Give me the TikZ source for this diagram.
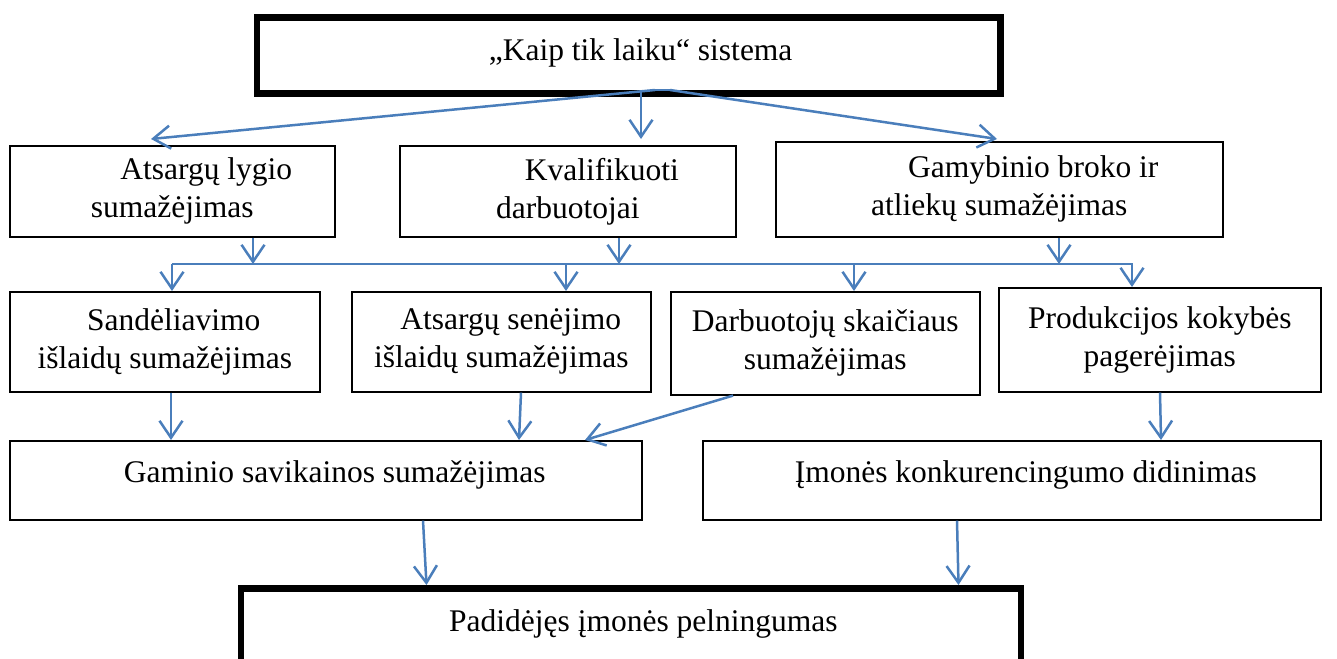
\documentclass[tikz,border=0pt]{standalone}
\usepackage{fontspec}
\setmainfont{Liberation Serif}
\usetikzlibrary{arrows.meta}
\definecolor{arrowblue}{RGB}{74,126,187}
\begin{document}
\begin{tikzpicture}[x=1pt,y=-1pt,
  box/.style={draw=black, line width=1.6pt, inner sep=0pt, anchor=north west,
    align=center, font=\fontsize{31.5}{38}\selectfont},
  heavybox/.style={box, line width=6.8pt},
  conn/.style={draw=arrowblue, line width=2.5pt},
  arr/.style={conn, -{Straight Barb[length=17pt,width=23pt]}}]
\useasboundingbox (0,0) rectangle (1337,658);

% boxes
\node[heavybox, minimum width=743.5pt, minimum height=75.5pt, text height=22pt, text depth=12.5pt]
  (T) at (253.5,14.5) {\hspace*{24pt}„Kaip tik laiku“ sistema};

\node[box, minimum width=325pt, minimum height=91pt] (A) at (9,145)
  {\hspace*{68pt}Atsargų lygio\\sumažėjimas};
\node[box, minimum width=336pt, minimum height=91pt] (B) at (399,145)
  {\hspace*{68pt}Kvalifikuoti\\darbuotojai};
\node[box, minimum width=447pt, minimum height=95pt] (C) at (775,141)
  {\hspace*{68pt}Gamybinio broko ir\\atliekų sumažėjimas};

\node[box, minimum width=310pt, minimum height=100pt] (D) at (9,291)
  {\hspace*{18pt}Sandėliavimo\\išlaidų sumažėjimas};
\node[box, minimum width=299pt, minimum height=100pt] (E) at (351,291)
  {\hspace*{19pt}Atsargų senėjimo\\išlaidų sumažėjimas};
\node[box, minimum width=309pt, minimum height=103pt] (F) at (670,291)
  {Darbuotojų skaičiaus\\sumažėjimas};
\node[box, minimum width=322pt, minimum height=104pt] (G) at (998,287)
  {Produkcijos kokybės\\pagerėjimas};

\node[box, minimum width=632pt, minimum height=79pt, text height=22pt, text depth=17pt] (H) at (9,440)
  {\hspace*{18pt}Gaminio savikainos sumažėjimas};
\node[box, minimum width=618pt, minimum height=79pt, text height=22pt, text depth=17pt] (I) at (702,440)
  {\hspace*{28pt}Įmonės konkurencingumo didinimas};

\node[heavybox, minimum width=780pt, minimum height=100pt, text height=22pt, text depth=36pt]
  (P) at (237.5,585) {\hspace*{25pt}Padidėjęs įmonės pelningumas};

% junction under the top box
\coordinate (j) at (655,90);
\coordinate (jr) at (670,90);
\coordinate (jv) at (641,90);
\draw[conn] (j) -- (jr);
\draw[arr] (j) -- ([xshift=142pt,yshift=6pt]A.north west);
\draw[arr, shorten >=6pt] (jv) -- (jv |- B.north);
\draw[arr] (jr) -- ([xshift=222pt,yshift=2pt]C.north west);

% bus between row 1 and row 2
\coordinate (busL) at (172,264);
\coordinate (busR) at (1133,264);
\draw[conn] (busL) -- (busR);
\coordinate (ba) at (253,264);
\coordinate (bb) at (619,264);
\coordinate (bc) at (1059,264);
\draw[arr] (ba |- A.south) -- (ba);
\draw[arr] (bb |- B.south) -- (bb);
\draw[arr] (bc |- C.south) -- (bc);
\coordinate (be) at (566,264);
\coordinate (bf) at (854,264);
\coordinate (bg) at (1132,264);
\draw[arr] (busL) -- (busL |- D.north);
\draw[arr] (be) -- (be |- E.north);
\draw[arr] (bf) -- (bf |- F.north);
\draw[arr] (bg) -- (bg |- G.north);

% row 2 to row 3
\draw[arr] ([xshift=162pt]D.south west) -- ([xshift=162pt]H.north west);
\draw[arr] ([xshift=170pt]E.south west) -- ([xshift=510pt]H.north west);
\draw[arr] ([xshift=63pt]F.south west) -- ([xshift=576pt]H.north west);
\draw[arr] ([xshift=162pt]G.south west) -- ([xshift=459pt]I.north west);

% row 3 to bottom
\draw[arr] ([xshift=414pt]H.south west) -- ([xshift=189pt]P.north west);
\draw[arr] ([xshift=255pt]I.south west) -- ([xshift=721pt]P.north west);
\end{tikzpicture}
\end{document}
